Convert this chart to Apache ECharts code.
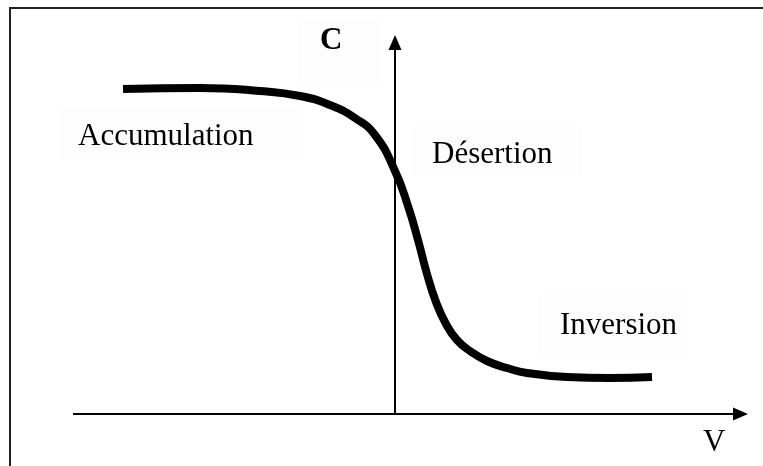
<!DOCTYPE html>
<html>
<head>
<meta charset="utf-8">
<script src="https://cdn.jsdelivr.net/npm/echarts@6/dist/echarts.min.js"></script>
<style>
  html, body { margin: 0; padding: 0; background: #fff; }
  #chart { width: 763px; height: 466px; }
</style>
</head>
<body>
<div id="chart"></div>
<script>
// courbe C(V) d'une capacité MOS (unités arbitraires)
const tension = [-5.44, -3.90, -2.70, -1.90, -1.30, -0.80, -0.40, 0, 0.26, 0.46, 0.64, 0.82, 1.02, 1.24, 1.50, 1.84, 2.24, 2.64, 3.44, 4.30, 5.14];
const capacite = [6.50, 6.52, 6.46, 6.36, 6.18, 5.92, 5.58, 4.86, 4.16, 3.48, 2.80, 2.24, 1.80, 1.48, 1.26, 1.06, 0.92, 0.82, 0.74, 0.72, 0.74];
const regimes = ["Accumulation", "Désertion", "Inversion"];
const axeV = [-6.44, 6.91];
const axeC = [0, 7.43];

const chart = echarts.init(document.getElementById("chart"));

const serif = "Liberation Serif";
const labelBg = "#fdfdfd";

function texte(txt, x, y, size, bold) {
  return {
    type: "text",
    x: x,
    y: y,
    z: 10,
    style: {
      text: txt,
      font: (bold ? "bold " : "") + size + "px '" + serif + "'",
      fill: "#000",
      verticalAlign: "middle",
      align: "left"
    }
  };
}

function fond(x, y, w, h) {
  return {
    type: "rect",
    z: 1,
    shape: { x: x, y: y, width: w, height: h },
    style: { fill: labelBg }
  };
}

const option = {
  animation: false,
  backgroundColor: "#fff",
  grid: { left: 0, right: 0, top: 0, bottom: 0 },
  xAxis: { type: "value", min: -7.9, max: 7.36, show: false },
  yAxis: { type: "value", min: -1.04, max: 8.28, show: false },
  graphic: [
    fond(60, 107, 238, 53),
    fond(412, 127, 170, 48),
    fond(538, 295, 150, 63),
    fond(298, 20, 82, 62),
    {
      type: "rect",
      z: 5,
      shape: { x: 10, y: 8, width: 800, height: 500 },
      style: { fill: null, stroke: "#222", lineWidth: 2 }
    },
    texte(regimes[0], 78, 137, 31),
    texte(regimes[1], 432, 155, 31),
    texte(regimes[2], 560, 326, 31),
    texte("V", 703, 443, 31),
    texte("C", 320, 41, 31, true)
  ],
  series: [
    {
      type: "line",
      data: tension.map((v, i) => [v, capacite[i]]),
      smooth: 0.5,
      showSymbol: false,
      symbol: "none",
      z: 4,
      lineStyle: { color: "#000", width: 8, cap: "butt" },
      markLine: {
        silent: true,
        symbol: ["none", "triangle"],
        symbolSize: [13, 15],
        label: { show: false },
        lineStyle: { color: "#000", width: 2, type: "solid" },
        data: [
          [{ coord: [axeV[0], 0] }, { coord: [axeV[1], 0] }],
          [{ coord: [0, axeC[0]] }, { coord: [0, axeC[1]] }]
        ]
      }
    }
  ]
};

chart.setOption(option);
</script>
</body>
</html>
